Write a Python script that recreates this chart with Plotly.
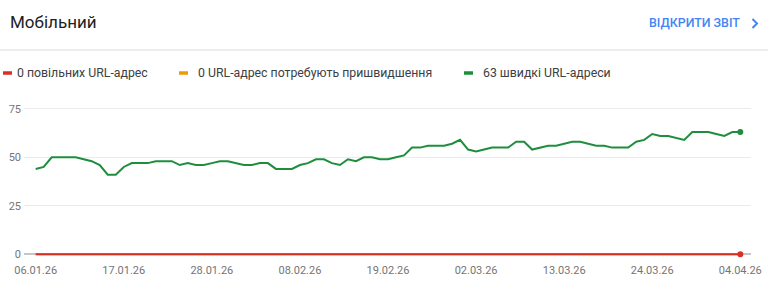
import plotly.graph_objects as go
import pandas as pd

# ---------------- data ----------------
START_DATE = "2026-01-06"
FAST_URLS = [44, 45, 50, 50, 50, 50, 49, 48, 46, 41, 41, 45, 47, 47, 47, 48, 48, 48, 46, 47,
             46, 46, 47, 48, 48, 47, 46, 46, 47, 47, 44, 44, 44, 46, 47, 49, 49, 47, 46, 49,
             48, 50, 50, 49, 49, 50, 51, 55, 55, 56, 56, 56, 57, 59, 54, 53, 54, 55, 55, 55,
             58, 58, 54, 55, 56, 56, 57, 58, 58, 57, 56, 56, 55, 55, 55, 58, 59, 62, 61, 61,
             60, 59, 63, 63, 63, 62, 61, 63, 63]
SLOW_URLS = [0] * len(FAST_URLS)
NEEDS_IMPROVEMENT_URLS = [0] * len(FAST_URLS)
TICK_LABELS = ["06.01.26", "17.01.26", "28.01.26", "08.02.26", "19.02.26",
               "02.03.26", "13.03.26", "24.03.26", "04.04.26"]
Y_TICKS = [0, 25, 50, 75]
LEGEND_LABELS = ["0 повільних URL-адрес", "0 URL-адрес потребують пришвидшення", "63 швидкі URL-адреси"]
TITLE = "Мобільний"
BUTTON = "ВІДКРИТИ ЗВІТ"

dates = pd.date_range(START_DATE, periods=len(FAST_URLS), freq="D")
tick_vals = [pd.to_datetime(t, format="%d.%m.%y") for t in TICK_LABELS]

# ---------------- geometry ----------------
W, H = 768, 285
L, R, T, B = 24, 17, 105, 27
PW, PH = W - L - R, H - T - B

def px(x):
    return (x - L) / PW

def py(y):
    return (H - B - y) / PH

RED = "#d93025"
ORANGE = "#f29900"
GREEN = "#1e8e3e"
FONT = "Roboto"

fig = go.Figure()

fig.add_trace(go.Scatter(x=dates, y=NEEDS_IMPROVEMENT_URLS, mode="lines",
                         line=dict(color=ORANGE, width=2), name=LEGEND_LABELS[1]))
fig.add_trace(go.Scatter(x=dates, y=SLOW_URLS, mode="lines",
                         line=dict(color=RED, width=2), name=LEGEND_LABELS[0]))
fig.add_trace(go.Scatter(x=dates, y=FAST_URLS, mode="lines",
                         line=dict(color=GREEN, width=2), name=LEGEND_LABELS[2]))
# end markers
fig.add_trace(go.Scatter(x=[dates[-1]], y=[SLOW_URLS[-1]], mode="markers",
                         marker=dict(color=RED, size=6), cliponaxis=False, showlegend=False))
fig.add_trace(go.Scatter(x=[dates[-1]], y=[FAST_URLS[-1]], mode="markers",
                         marker=dict(color=GREEN, size=6), cliponaxis=False, showlegend=False))

x0 = dates[0] - pd.Timedelta(hours=35)
x1 = dates[-1] + pd.Timedelta(hours=32)

fig.update_layout(
    width=W, height=H,
    margin=dict(l=L, r=R, t=T, b=B, autoexpand=False),
    paper_bgcolor="white", plot_bgcolor="white",
    showlegend=False,
    font=dict(family=FONT, color="#5f6368", size=11),
    xaxis=dict(range=[x0, x1], tickvals=tick_vals, ticktext=TICK_LABELS,
               showgrid=False, zeroline=False, showline=False, ticks="",
               tickfont=dict(size=11, color="#757575"), ticklabelstandoff=4,
               automargin=False),
    yaxis=dict(range=[-2, 77], tickvals=Y_TICKS, showgrid=True, gridcolor="#ebebeb",
               gridwidth=1, zeroline=True, zerolinecolor="#c6c6c6", zerolinewidth=1.5,
               showline=False, ticks="", tickfont=dict(size=11, color="#757575"),
               ticklabelstandoff=2, automargin=False),
)

ann = []
ann.append(dict(text=TITLE, x=px(8), y=py(22), xref="paper", yref="paper",
                xanchor="left", yanchor="middle", showarrow=False,
                font=dict(family=FONT, size=17, color="#202124")))
ann.append(dict(text=BUTTON, x=px(742), y=py(23), xref="paper", yref="paper",
                xanchor="right", yanchor="middle", showarrow=False,
                font=dict(family=FONT, size=12.4, color="#4285f4", weight=500)))
legend_x = [15, 196, 481]
dash_x = [3, 179, 464]
colors = [RED, ORANGE, GREEN]
shapes = []
for lx, dx, lab, c in zip(legend_x, dash_x, LEGEND_LABELS, colors):
    ann.append(dict(text=lab, x=px(lx), y=py(73), xref="paper", yref="paper",
                    xanchor="left", yanchor="middle", showarrow=False,
                    font=dict(family=FONT, size=12.3, color="#3c4043")))
    shapes.append(dict(type="line", xref="paper", yref="paper",
                       x0=px(dx), x1=px(dx + 9), y0=py(73), y1=py(73),
                       line=dict(color=c, width=3.5)))
# divider under header
shapes.append(dict(type="line", xref="paper", yref="paper", x0=px(0), x1=px(768),
                   y0=py(50), y1=py(50), line=dict(color="#e6e6e6", width=1.5)))
# chevron of the button
shapes.append(dict(type="path", xref="paper", yref="paper",
                   path=f"M {px(752.5)},{py(19)} L {px(757)},{py(23.5)} L {px(752.5)},{py(28)}",
                   line=dict(color="#4285f4", width=2)))

fig.update_layout(annotations=ann, shapes=shapes)

fig.write_html("out.html")
